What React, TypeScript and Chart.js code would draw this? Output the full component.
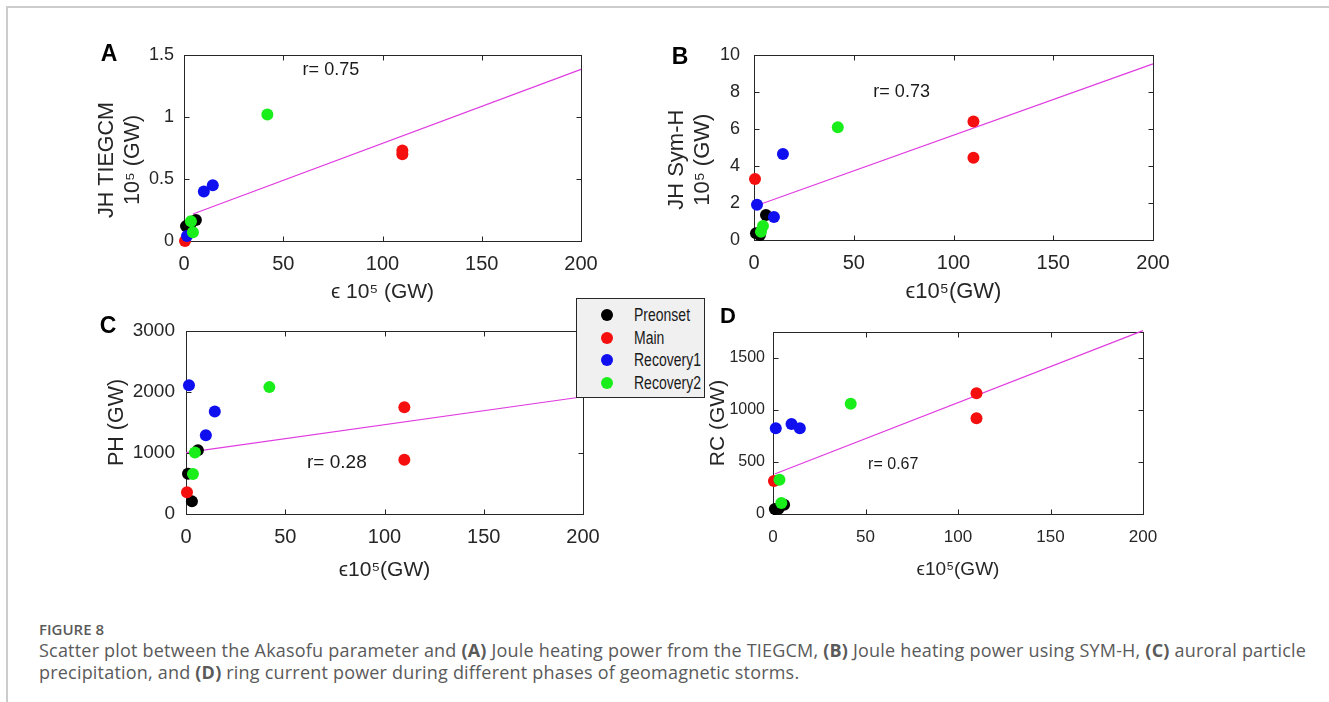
import React, { useEffect, useRef } from "react";
import { Chart, registerables } from "chart.js";

Chart.register(...registerables);

const FONT = "'Liberation Sans', Arial, Helvetica, sans-serif";
const AXIS_COLOR = "#262626";
const FIT_COLOR = "#e03ce0";

// ---- series (storm phases) ----
const seriesNames = ["Preonset", "Main", "Recovery1", "Recovery2"];
const seriesColors = ["#000000", "#f50f0f", "#0f0ff0", "#1aee1a"];

// Akasofu epsilon (x values, 10^5 GW) per phase
const epsPreonset = [1, 3, 6];
const epsMain = [0.5, 110, 110];
const epsRecovery1 = [1.5, 10, 14.5];
const epsRecovery2 = [3.5, 4.5, 42];

const xTicks = [0, 50, 100, 150, 200];
const xTickLabels = ["0", "50", "100", "150", "200"];

// ---- Panel A: JH TIEGCM ----
const jhTiegcmPreonset = [0.12, 0.12, 0.17];
const jhTiegcmMain = [0.0, 0.7, 0.73];
const jhTiegcmRecovery1 = [0.04, 0.4, 0.45];
const jhTiegcmRecovery2 = [0.16, 0.07, 1.02];
const jhTiegcmFitX = [4.5, 200];
const jhTiegcmFitY = [0.218, 1.384];
const jhTiegcmTicks = [0, 0.5, 1, 1.5];
const jhTiegcmTickLabels = ["0", "0.5", "1", "1.5"];

// ---- Panel B: JH Sym-H ----
const jhSymHPreonset = [0.36, 0.27, 1.35];
const jhSymHMain = [3.3, 6.4, 4.45];
const jhSymHRecovery1 = [1.91, 1.24, 4.65];
const jhSymHRecovery2 = [0.45, 0.76, 6.1];
const jhSymHFitX = [2.8, 200];
const jhSymHFitY = [1.92, 9.52];
const jhSymHTicks = [0, 2, 4, 6, 8, 10];
const jhSymHTickLabels = ["0", "2", "4", "6", "8", "10"];

// ---- Panel C: PH ----
const phPreonset = [660, 207, 1045];
const phMain = [355, 1750, 890];
const phRecovery1 = [2110, 1290, 1680];
const phRecovery2 = [655, 1010, 2080];
const phFitX = [0, 200];
const phFitY = [1007, 1922];
const phTicks = [0, 1000, 2000, 3000];
const phTickLabels = ["0", "1000", "2000", "3000"];

// ---- Panel D: RC ----
const rcPreonset = [48, 50, 90];
const rcMain = [317, 1160, 920];
const rcRecovery1 = [825, 865, 825];
const rcRecovery2 = [330, 105, 1060];
const rcFitX = [0.9, 200];
const rcFitY = [385, 1763];
const rcTicks = [0, 500, 1000, 1500];
const rcTickLabels = ["0", "500", "1000", "1500"];

const epsSeries = [epsPreonset, epsMain, epsRecovery1, epsRecovery2];

type PanelCfg = {
  box: { left: number; top: number; right: number; bottom: number };
  yMax: number;
  yTicks: number[];
  yTickLabels: string[];
  ys: number[][];
  fitX: number[];
  fitY: number[];
  yTickFont: number;
  yTickGap: number;
  xTickFont: number;
  xTickY: number;
  xTitle: string;
  xTitleFont: number;
  xTitleY: number;
  yTitle: string | string[];
  yTitleFont: number;
  yTitleX: number;
  letter: string;
  letterX: number;
  letterY: number;
  letterFont: number;
  rText: string;
  rX: number;
  rY: number;
  rFont: number;
};

const panels: PanelCfg[] = [
  {
    box: { left: 184, top: 55, right: 581, bottom: 241 },
    yMax: 1.5,
    yTicks: jhTiegcmTicks,
    yTickLabels: jhTiegcmTickLabels,
    ys: [jhTiegcmPreonset, jhTiegcmMain, jhTiegcmRecovery1, jhTiegcmRecovery2],
    fitX: jhTiegcmFitX,
    fitY: jhTiegcmFitY,
    yTickFont: 18,
    yTickGap: 10,
    xTickFont: 20,
    xTickY: 264,
    xTitle: "\u03f5 10\u2075 (GW)",
    xTitleFont: 21,
    xTitleY: 292,
    yTitle: ["JH TIEGCM    ", "10\u2075 (GW)    "],
    yTitleFont: 21.5,
    yTitleX: 107,
    letter: "A",
    letterX: 109,
    letterY: 55,
    letterFont: 23,
    rText: "r= 0.75",
    rX: 74,
    rY: 1.38,
    rFont: 18,
  },
  {
    box: { left: 754, top: 55, right: 1153, bottom: 240 },
    yMax: 10,
    yTicks: jhSymHTicks,
    yTickLabels: jhSymHTickLabels,
    ys: [jhSymHPreonset, jhSymHMain, jhSymHRecovery1, jhSymHRecovery2],
    fitX: jhSymHFitX,
    fitY: jhSymHFitY,
    yTickFont: 18,
    yTickGap: 14,
    xTickFont: 20,
    xTickY: 263,
    xTitle: "\u03f510\u2075(GW)",
    xTitleFont: 22,
    xTitleY: 292,
    yTitle: ["JH Sym-H    ", "10\u2075 (GW)    "],
    yTitleFont: 22,
    yTitleX: 677,
    letter: "B",
    letterX: 680,
    letterY: 58,
    letterFont: 23,
    rText: "r= 0.73",
    rX: 74,
    rY: 8.0,
    rFont: 18,
  },
  {
    box: { left: 186, top: 331, right: 583, bottom: 514 },
    yMax: 3000,
    yTicks: phTicks,
    yTickLabels: phTickLabels,
    ys: [phPreonset, phMain, phRecovery1, phRecovery2],
    fitX: phFitX,
    fitY: phFitY,
    yTickFont: 19,
    yTickGap: 11,
    xTickFont: 20,
    xTickY: 537,
    xTitle: "\u03f510\u2075(GW)",
    xTitleFont: 21,
    xTitleY: 570,
    yTitle: "PH (GW)",
    yTitleFont: 21.5,
    yTitleX: 117,
    letter: "C",
    letterX: 108,
    letterY: 327,
    letterFont: 23,
    rText: "r= 0.28",
    rX: 76,
    rY: 833,
    rFont: 19,
  },
  {
    box: { left: 773, top: 332, right: 1143, bottom: 514 },
    yMax: 1750,
    yTicks: rcTicks,
    yTickLabels: rcTickLabels,
    ys: [rcPreonset, rcMain, rcRecovery1, rcRecovery2],
    fitX: rcFitX,
    fitY: rcFitY,
    yTickFont: 16,
    yTickGap: 8,
    xTickFont: 17,
    xTickY: 537,
    xTitle: "\u03f510\u2075(GW)",
    xTitleFont: 19,
    xTitleY: 570,
    yTitle: "RC (GW)",
    yTitleFont: 21,
    yTitleX: 718,
    letter: "D",
    letterX: 728,
    letterY: 317,
    letterFont: 22,
    rText: "r= 0.67",
    rX: 65,
    rY: 474,
    rFont: 16,
  },
];

const PAD_L = 100;
const PAD_R = 30;
const PAD_T = 40;
const PAD_B = 75;
const TICK_LEN = 5;

function Panel({ cfg }: { cfg: PanelCfg }) {
  const ref = useRef<HTMLCanvasElement>(null);
  const cl = cfg.box.left - PAD_L;
  const ct = cfg.box.top - PAD_T;
  const cw = cfg.box.right - cfg.box.left + PAD_L + PAD_R;
  const ch = cfg.box.bottom - cfg.box.top + PAD_T + PAD_B;

  useEffect(() => {
    if (!ref.current) return;
    const xTitleLh = cfg.xTitleFont * 1.2;
    const yTitleLh = cfg.yTitleFont * 1.2;
    const xTickLh = cfg.xTickFont * 1.2;

    const decor = {
      id: "panelDecor",
      beforeDatasetsDraw(chart: any) {
        const { ctx, chartArea: a, scales } = chart;
        ctx.save();
        ctx.strokeStyle = AXIS_COLOR;
        ctx.lineWidth = 1;
        const L = Math.round(a.left) + 0.5;
        const T = Math.round(a.top) + 0.5;
        const R = Math.round(a.right) + 0.5;
        const B = Math.round(a.bottom) + 0.5;
        ctx.strokeRect(L, T, R - L, B - T);
        ctx.beginPath();
        for (const v of xTicks) {
          const px = Math.round(scales.x.getPixelForValue(v)) + 0.5;
          ctx.moveTo(px, B);
          ctx.lineTo(px, B - TICK_LEN);
          ctx.moveTo(px, T);
          ctx.lineTo(px, T + TICK_LEN);
        }
        for (const v of cfg.yTicks) {
          const py = Math.round(scales.y.getPixelForValue(v)) + 0.5;
          ctx.moveTo(L, py);
          ctx.lineTo(L + TICK_LEN, py);
          ctx.moveTo(R, py);
          ctx.lineTo(R - TICK_LEN, py);
        }
        ctx.stroke();
        ctx.restore();
      },
      afterDatasetsDraw(chart: any) {
        const { ctx, scales } = chart;
        ctx.save();
        ctx.fillStyle = "#1a1a1a";
        ctx.textAlign = "center";
        ctx.textBaseline = "middle";
        ctx.font = `${cfg.rFont}px ${FONT}`;
        ctx.fillText(
          cfg.rText,
          scales.x.getPixelForValue(cfg.rX),
          scales.y.getPixelForValue(cfg.rY)
        );
        ctx.fillStyle = "#000";
        ctx.font = `bold ${cfg.letterFont}px ${FONT}`;
        ctx.fillText(cfg.letter, cfg.letterX - cl, cfg.letterY - ct);
        ctx.restore();
      },
    };

    const datasets: any[] = seriesNames.map((name, i) => ({
      type: "scatter",
      label: name,
      data: epsSeries[i].map((x, j) => ({ x, y: cfg.ys[i][j] })),
      backgroundColor: seriesColors[i],
      borderWidth: 0,
      pointRadius: 6,
      pointHoverRadius: 6,
      clip: false,
      order: 4 - i,
    }));
    datasets.push({
      type: "line",
      label: "fit",
      data: cfg.fitX.map((x, j) => ({ x, y: cfg.fitY[j] })),
      borderColor: FIT_COLOR,
      borderWidth: 1.2,
      pointRadius: 0,
      fill: false,
      clip: false,
      order: 10,
    });

    const chart = new Chart(ref.current, {
      type: "scatter",
      data: { datasets },
      options: {
        animation: false,
        responsive: false,
        maintainAspectRatio: false,
        devicePixelRatio: 1,
        events: [],
        layout: { padding: { left: 0, top: PAD_T, right: PAD_R, bottom: 0 } },
        plugins: { legend: { display: false }, tooltip: { enabled: false } },
        scales: {
          x: {
            type: "linear",
            position: "bottom",
            min: 0,
            max: 200,
            afterBuildTicks: (s: any) => {
              s.ticks = xTicks.map((v) => ({ value: v }));
            },
            afterFit: (s: any) => {
              s.height = PAD_B;
            },
            grid: { display: false, drawTicks: false },
            border: { display: false },
            ticks: {
              autoSkip: false,
              maxRotation: 0,
              color: AXIS_COLOR,
              padding: cfg.xTickY - cfg.box.bottom - xTickLh / 2,
              font: { family: FONT, size: cfg.xTickFont },
              callback: (v: any) => xTickLabels[xTicks.indexOf(Number(v))] ?? "",
            },
            title: {
              display: true,
              text: cfg.xTitle,
              color: AXIS_COLOR,
              font: { family: FONT, size: cfg.xTitleFont },
              padding: {
                top: 0,
                bottom: cfg.box.bottom + PAD_B - xTitleLh / 2 - cfg.xTitleY,
              },
            },
          },
          y: {
            type: "linear",
            position: "left",
            min: 0,
            max: cfg.yMax,
            afterBuildTicks: (s: any) => {
              s.ticks = cfg.yTicks.map((v) => ({ value: v }));
            },
            afterFit: (s: any) => {
              s.width = PAD_L;
            },
            grid: { display: false, drawTicks: false },
            border: { display: false },
            ticks: {
              autoSkip: false,
              color: AXIS_COLOR,
              padding: cfg.yTickGap,
              font: { family: FONT, size: cfg.yTickFont },
              callback: (v: any) =>
                cfg.yTickLabels[cfg.yTicks.indexOf(Number(v))] ?? "",
            },
            title: {
              display: true,
              text: cfg.yTitle as any,
              color: AXIS_COLOR,
              font: { family: FONT, size: cfg.yTitleFont },
              padding: { top: cfg.yTitleX - cl - yTitleLh / 2, bottom: 0 },
            },
          },
        },
      },
      plugins: [decor],
    } as any);
    return () => chart.destroy();
  }, []);

  return (
    <canvas
      ref={ref}
      width={cw}
      height={ch}
      style={{ position: "absolute", left: cl, top: ct, width: cw, height: ch }}
    />
  );
}

function Legend() {
  const rowY = [315, 338, 360, 383];
  const boxL = 576;
  const boxT = 298;
  return (
    <div
      style={{
        position: "absolute",
        left: boxL,
        top: boxT,
        width: 129,
        height: 100,
        boxSizing: "border-box",
        background: "#f0f0f0",
        border: "1px solid #262626",
      }}
    >
      {seriesNames.map((n, i) => (
        <React.Fragment key={n}>
          <div
            style={{
              position: "absolute",
              left: 607 - boxL - 1 - 6,
              top: rowY[i] - boxT - 1 - 6,
              width: 12,
              height: 12,
              borderRadius: "50%",
              background: seriesColors[i],
            }}
          />
          <div
            style={{
              position: "absolute",
              left: 634 - boxL - 1,
              top: rowY[i] - boxT - 1 - 10,
              height: 20,
              lineHeight: "20px",
              fontFamily: FONT,
              fontSize: 17.5,
              color: "#1a1a1a",
              whiteSpace: "nowrap",
              transform: "scaleX(0.8)",
              transformOrigin: "left center",
            }}
          >
            {n}
          </div>
        </React.Fragment>
      ))}
    </div>
  );
}

const CAP_FONT = "'Open Sans', 'Noto Sans', sans-serif";

function Caption() {
  const base: React.CSSProperties = {
    position: "absolute",
    left: 39,
    whiteSpace: "nowrap",
    fontFamily: CAP_FONT,
    color: "#5a5a5a",
  };
  return (
    <>
      <div style={{ ...base, top: 618, height: 22, lineHeight: "22px", fontSize: 15, fontWeight: 600 }}>
        FIGURE 8
      </div>
      <div style={{ ...base, top: 639, height: 22, lineHeight: "22px", fontSize: 18, letterSpacing: 0.2 }}>
        Scatter plot between the Akasofu parameter and <b>(A)</b> Joule heating power from the
        TIEGCM, <b>(B)</b> Joule heating power using SYM-H, <b>(C)</b> auroral particle
      </div>
      <div style={{ ...base, top: 661, height: 22, lineHeight: "22px", fontSize: 18, letterSpacing: 0.2 }}>
        precipitation, and <b>(D)</b> ring current power during different phases of geomagnetic
        storms.
      </div>
    </>
  );
}

export default function App() {
  return (
    <div
      style={{
        position: "absolute",
        left: 0,
        top: 0,
        width: 1329,
        height: 702,
        background: "#ffffff",
        overflow: "hidden",
      }}
    >
      <div
        style={{
          position: "absolute",
          left: 6,
          top: 6,
          width: 1330,
          height: 700,
          borderTop: "2px solid #cccccc",
          borderLeft: "2px solid #cccccc",
        }}
      />
      {panels.map((p) => (
        <Panel key={p.letter} cfg={p} />
      ))}
      <Legend />
      <Caption />
    </div>
  );
}
